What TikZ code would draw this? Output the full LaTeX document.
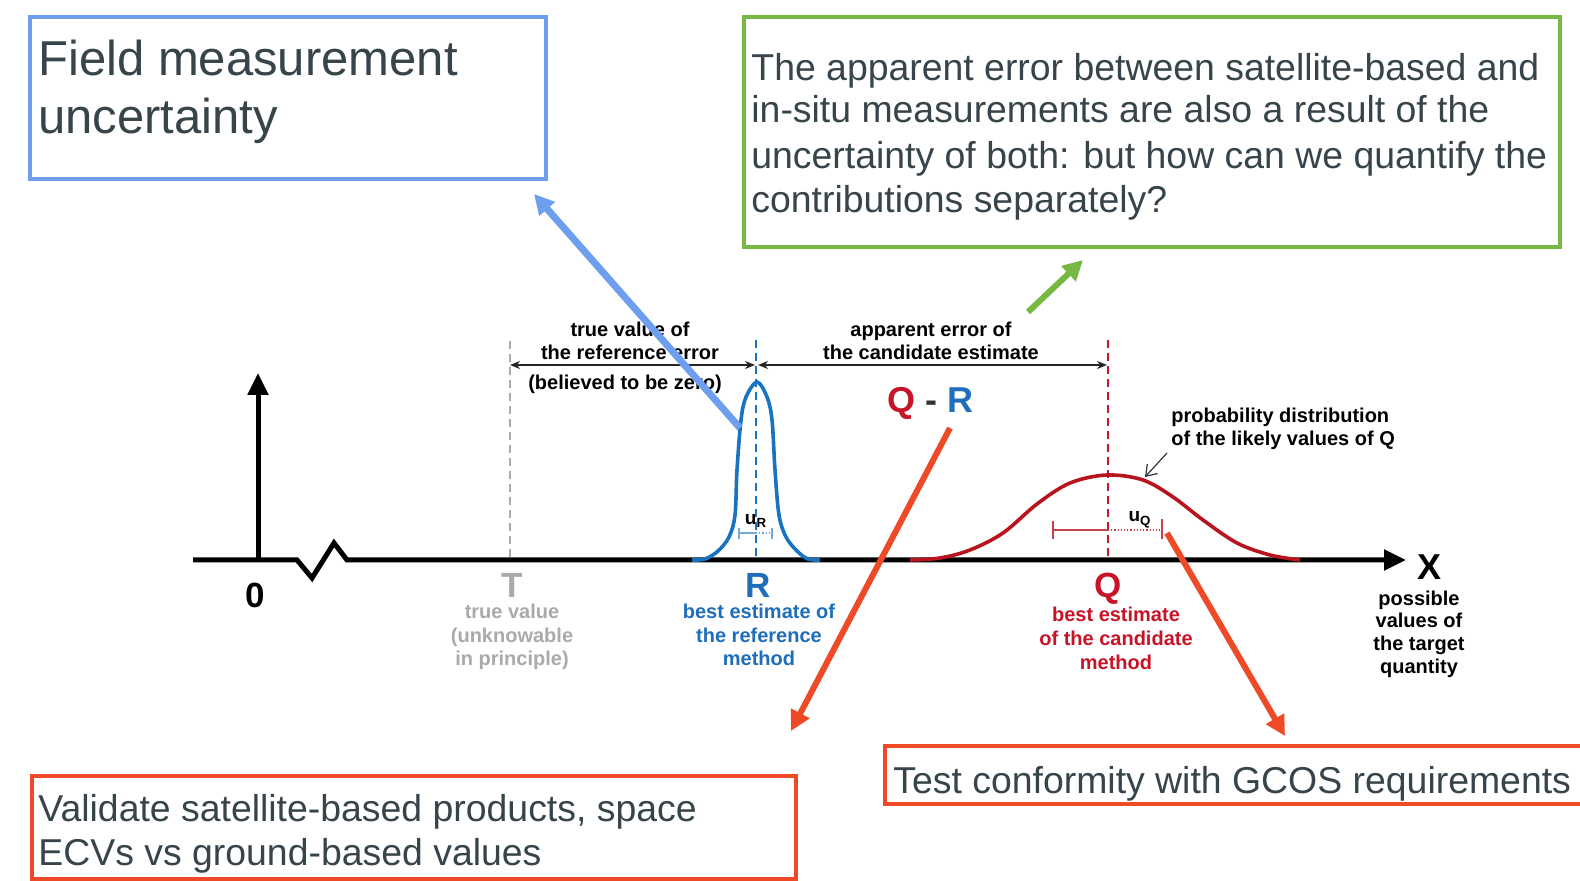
\documentclass[tikz,border=0pt]{standalone}
\usepackage{fontspec}
\setmainfont{Liberation Sans}
\usetikzlibrary{arrows.meta,fit}
\definecolor{boxtext}{RGB}{55,68,74}
\definecolor{bboxc}{RGB}{110,158,238}
\definecolor{gboxc}{RGB}{118,184,66}
\definecolor{rboxc}{RGB}{238,74,40}
\definecolor{rblue}{RGB}{30,110,185}
\definecolor{qred}{RGB}{200,20,40}
\definecolor{tgrey}{RGB}{170,170,170}
\definecolor{curveblue}{RGB}{25,115,195}
\definecolor{curvered}{RGB}{185,20,30}
\begin{document}
\begin{tikzpicture}[x=0.5pt,y=-0.5pt,
  bigtxt/.style={font=\fontsize{24.5}{29}\selectfont, text=boxtext, anchor=base west, inner sep=0},
  midtxt/.style={font=\fontsize{18.7}{22}\selectfont, text=boxtext, anchor=base west, inner sep=0},
  lab/.style={font=\fontsize{10}{12}\selectfont\bfseries, anchor=base, inner sep=0},
  letter/.style={font=\fontsize{17.5}{20}\selectfont\bfseries, anchor=base, inner sep=0},
  frame/.style={draw, line width=1.6pt, inner sep=0},
  callout/.style={line width=3pt, -{Triangle[length=10pt,width=10pt]}},
  dimarrow/.style={line width=0.8pt, black!85, {Stealth[length=5pt,width=4pt]}-{Stealth[length=5pt,width=4pt]}},
  guide/.style={dash pattern=on 4pt off 2.5pt, line width=1.2pt},
  axisline/.style={line width=2.5pt, -{Triangle[length=11pt,width=10pt]}},
]
\useasboundingbox[fill=white] (0,0) rectangle (1580,881);

% ---- boxes ----
\node[frame, draw=bboxc, fit={(30,17) (546,179)}] (fieldbox) {};
\node[bigtxt] (fm1) at (38,76) {Field measurement};
\node[bigtxt] (fm2) at (38,134) {uncertainty};

\node[frame, draw=gboxc, line width=2pt, fit={(744,17) (1560,247)}] (greenbox) {};
\node[midtxt] (g1) at (751,81) {The apparent error between satellite-based and};
\node[midtxt] (g2) at (751,123) {in-situ measurements are also a result of the};
\node[midtxt] (g3) at (751,169) {uncertainty of both: but how can we quantify the};
\node[midtxt] (g4) at (751,213) {contributions separately?};

\node[frame, draw=rboxc, fit={(32,776) (796,879)}] (valbox) {};
\node[midtxt] (v1) at (38,821) {Validate satellite-based products, space};
\node[midtxt] (v2) at (38,865) {ECVs vs ground-based values};

\node[frame, draw=rboxc, fit={(885,746) (1600,804)}] (gcosbox) {};
\node[midtxt] (t1) at (893,793) {Test conformity with GCOS requirements};

% ---- axes ----
\coordinate (axstart) at (193,560);
\coordinate (axend) at (1406,560);
\coordinate (yfoot) at (258,560);
\coordinate (ytop) at (258,373);
\draw[axisline] (axstart) -- (297,560) -- (312,578) -- (334,543) -- (347,560) -- (axend);
\draw[axisline] (yfoot) -- (ytop);
\node[letter] (zero) at (255,608) {0};
\node[letter, font=\fontsize{18}{20}\selectfont\bfseries] (xlab) at (1429,580) {X};
\node[lab] (p1) at (1419,606) {possible};
\node[lab] (p2) at (1419,628) {values of};
\node[lab] (p3) at (1419,651) {the target};
\node[lab] (p4) at (1419,674) {quantity};

% ---- guide lines ----
\coordinate (ttop) at (510,341);
\coordinate (tbot) at (510,560);
\coordinate (rtop) at (756,340);
\coordinate (rbot) at (756,560);
\coordinate (qtop) at (1108,340);
\coordinate (qbot) at (1108,560);
\draw[guide, tgrey] (ttop) -- (tbot);
\draw[guide, curveblue] (rtop) -- (rbot);
\draw[guide, qred] (qtop) -- (qbot);

% ---- curves ----
\draw[curveblue, line width=1.8pt] plot[smooth, tension=0.55] coordinates {
 (692,560) (705,559) (718,551) (729,537) (735,515) (737,470) (741,420) (746,397) (757,382)
 (767,397) (772,420) (775,470) (779,515) (786,537) (797,551) (808,559) (820,560)};
\draw[curvered, line width=1.8pt] plot[smooth, tension=0.55] coordinates {
 (910,560) (940,558) (970,550) (1003,533) (1037,504) (1070,483) (1107,475) (1143,480)
 (1173,497) (1203,520) (1237,543) (1270,555) (1300,560)};

% ---- T, R, Q labels ----
\node[letter, text=tgrey] (tl) at (512,598) {T};
\node[lab, text=tgrey] (t1l) at (512,619) {true value};
\node[lab, text=tgrey] (t2l) at (512,643) {(unknowable};
\node[lab, text=tgrey] (t3l) at (512,666) {in principle)};

\node[letter, text=rblue] (rl) at (758,598) {R};
\node[lab, text=rblue] (r1l) at (759,619) {best estimate of};
\node[lab, text=rblue] (r2l) at (759,643) {the reference};
\node[lab, text=rblue] (r3l) at (759,666) {method};

\node[letter, text=qred] (ql) at (1108,598) {Q};
\node[lab, text=qred] (q1l) at (1116,622) {best estimate};
\node[lab, text=qred] (q2l) at (1116,646) {of the candidate};
\node[lab, text=qred] (q3l) at (1116,669) {method};

% ---- uncertainty brackets ----
\node[font=\fontsize{9.5}{10}\selectfont\bfseries, anchor=base, inner sep=0] (ur) at (756,525) {u\textsubscript{R}};
\draw[curveblue!60, line width=0.6pt] (739,528) -- (739,539) (739,533) -- (756,533) (772,528) -- (772,539);
\draw[curveblue!60, line width=0.6pt, densely dotted] (756,533) -- (772,533);
\node[font=\fontsize{9.5}{10}\selectfont\bfseries, anchor=base, inner sep=0] (uq) at (1140,522) {u\textsubscript{Q}};
\draw[curvered!80, line width=0.6pt] (1053,521) -- (1053,539) (1053,530) -- (1108,530) (1162,519) -- (1162,539);
\draw[curvered!80, line width=0.6pt, densely dotted] (1108,530) -- (1162,530);

% ---- probability annotation ----
\node[lab, anchor=base west] (pd1) at (1171,423) {probability distribution};
\node[lab, anchor=base west] (pd2) at (1171,446) {of the likely values of Q};
\coordinate (pdfrom) at (1167,453);
\coordinate (pdto) at (1145,477);
\draw[line width=0.6pt, black!80, -{Straight Barb[length=5pt,width=7pt]}] (pdfrom) -- (pdto);

% ---- dimension arrows ----
\coordinate (dT) at (510,365);
\coordinate (dR1) at (755,365);
\coordinate (dR2) at (758,365);
\coordinate (dQ) at (1107,365);
\draw[dimarrow] (dT) -- (dR1);
\draw[dimarrow] (dR2) -- (dQ);
\node[lab] (d1) at (630,337) {true value of};
\node[lab] (d2) at (630,360) {the reference error};
\node[lab] (d3) at (625,390) {(believed to be zero)};
\node[lab] (d4) at (931,337) {apparent error of};
\node[lab] (d5) at (931,360) {the candidate estimate};

% ---- Q - R ----
\node[font=\fontsize{18}{20}\selectfont\bfseries, anchor=base, inner sep=0] (qr) at (930,413)
  {\textcolor{qred}{Q} \textcolor{black!80}{-} \textcolor{rblue}{R}};

% ---- callout arrows ----
\coordinate (bfrom) at (740,428);
\coordinate (bto) at (534,194);
\coordinate (gfrom) at (1028,312);
\coordinate (gto) at (1083,260);
\coordinate (o1from) at (950,428);
\coordinate (o1to) at (791,731);
\coordinate (o2from) at (1167,533);
\coordinate (o2to) at (1285,736);
\draw[callout, bboxc, line width=3.5pt] (bfrom) -- (bto);
\draw[callout, gboxc] (gfrom) -- (gto);
\draw[callout, rboxc] (o1from) -- (o1to);
\draw[callout, rboxc] (o2from) -- (o2to);
\end{tikzpicture}
\end{document}
